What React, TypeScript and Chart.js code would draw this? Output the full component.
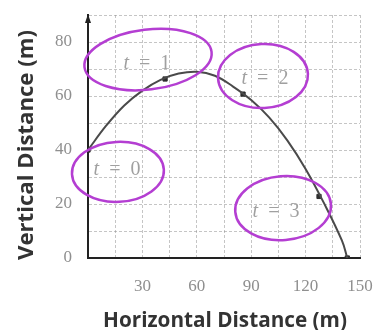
import { useEffect, useRef } from "react";
import { Chart, registerables } from "chart.js";

Chart.register(...registerables);

// Flight path of the projectile (horizontal m, vertical m)
const pathX = [0, 10, 20, 30, 40, 50, 60, 70, 80, 90, 100, 110, 120, 130, 140, 143];
const pathY = [40, 49, 56.5, 62, 66, 68.3, 69, 67.5, 63.5, 58.5, 52, 43.5, 33, 20.5, 6.5, 0];

// Positions at whole seconds plus the landing point
const markerX = [0, 42.5, 85.5, 127.4, 143];
const markerY = [40, 66.3, 60.7, 22.8, 0];

const timeLabels = ["0", "1", "2", "3"];

const xTitle = "Horizontal Distance (m)";
const yTitle = "Vertical Distance (m)";

const INK = "#333";
const TICK_GRAY = "#8f8f8f";
const PEN = "#b43ed2";

// Callout placement for each time label (data units) and its hand-drawn loop (px radii)
const callouts = [
  { tx: 16, ty: 32.6, cx: 16.5, cy: 31.9, rx: 46, ry: 30, rot: -0.05 },
  { tx: 32.5, ty: 71.8, cx: 33.1, cy: 73.5, rx: 64, ry: 30, rot: -0.12 },
  { tx: 97.6, ty: 66.5, cx: 96.5, cy: 67.4, rx: 45, ry: 32, rot: -0.05 },
  { tx: 103.7, ty: 17, cx: 107.6, cy: 18.5, rx: 48, ry: 32, rot: -0.08 },
];

// Draws a bold title whose font size is chosen so the text spans `span` px
function fittedTitle(ctx: CanvasRenderingContext2D, text: string, span: number) {
  ctx.font = "bold 20px 'Open Sans'";
  const w = ctx.measureText(text).width;
  const size = (20 * span) / w;
  ctx.font = `bold ${size.toFixed(2)}px 'Open Sans'`;
}

const decorPlugin = {
  id: "decor",
  afterDatasetsDraw(chart: any) {
    const { ctx, scales } = chart;
    const xs = scales.x;
    const ys = scales.y;
    ctx.save();
    // time labels
    ctx.fillStyle = "#a0a0a0";
    ctx.textBaseline = "middle";
    callouts.forEach((c, i) => {
      const px = xs.getPixelForValue(c.tx);
      const py = ys.getPixelForValue(c.ty);
      const rest = "  =  " + timeLabels[i];
      ctx.font = "italic 20px 'Liberation Serif'";
      const tw = ctx.measureText("t").width;
      ctx.font = "20px 'Liberation Serif'";
      const rw = ctx.measureText(rest).width;
      const start = px - (tw + rw) / 2;
      ctx.textAlign = "left";
      ctx.font = "italic 20px 'Liberation Serif'";
      ctx.fillText("t", start, py);
      ctx.font = "20px 'Liberation Serif'";
      ctx.fillText(rest, start + tw, py);
    });
    // hand-drawn loops
    ctx.strokeStyle = PEN;
    ctx.lineWidth = 2.5;
    callouts.forEach((c) => {
      ctx.beginPath();
      ctx.ellipse(
        xs.getPixelForValue(c.cx),
        ys.getPixelForValue(c.cy),
        c.rx,
        c.ry,
        c.rot,
        0,
        Math.PI * 2
      );
      ctx.stroke();
    });
    ctx.restore();
  },
  afterDraw(chart: any) {
    const { ctx, chartArea } = chart;
    ctx.save();
    // arrowhead on the vertical axis
    ctx.fillStyle = "#222";
    ctx.beginPath();
    ctx.moveTo(chartArea.left, chartArea.top - 1);
    ctx.lineTo(chartArea.left - 3, chartArea.top + 8);
    ctx.lineTo(chartArea.left + 3, chartArea.top + 8);
    ctx.closePath();
    ctx.fill();
    // axis titles
    ctx.fillStyle = INK;
    ctx.textAlign = "center";
    ctx.textBaseline = "alphabetic";
    fittedTitle(ctx, xTitle, 244);
    ctx.fillText(xTitle, 225, 327);
    ctx.translate(33, 145);
    ctx.rotate(-Math.PI / 2);
    fittedTitle(ctx, yTitle, 230);
    ctx.fillText(yTitle, 0, 0);
    ctx.restore();
  },
};

const gridColor = (c: any) =>
  c.tick && c.tick.value === 0 ? "rgba(0,0,0,0)" : "rgba(140,140,140,0.5)";

export default function App() {
  const ref = useRef<HTMLCanvasElement>(null);

  useEffect(() => {
    document.body.style.margin = "0";
    const canvas = ref.current;
    if (!canvas) return;
    const chart = new Chart(canvas, {
      type: "scatter",
      data: {
        datasets: [
          {
            type: "line",
            data: pathX.map((x, i) => ({ x, y: pathY[i] })),
            borderColor: "#4a4a4a",
            borderWidth: 2,
            pointRadius: 0,
            tension: 0.4,
            fill: false,
          },
          {
            data: markerX.map((x, i) => ({ x, y: markerY[i] })),
            backgroundColor: "#2e2e2e",
            borderColor: "#2e2e2e",
            pointStyle: "rect",
            pointRadius: 3,
          },
        ],
      },
      options: {
        responsive: false,
        animation: false,
        events: [],
        layout: { padding: { top: 15, right: 17, left: 0, bottom: 0 } },
        plugins: { legend: { display: false }, tooltip: { enabled: false } },
        scales: {
          x: {
            type: "linear",
            min: 0,
            max: 150,
            afterFit: (s: any) => {
              s.height = 72;
              s.paddingLeft = 0;
              s.paddingRight = 0;
            },
            ticks: {
              stepSize: 15,
              padding: 18,
              color: TICK_GRAY,
              font: { family: "'Liberation Serif'", size: 17 },
              maxRotation: 0,
              autoSkip: false,
              callback: (v: any) => (v % 30 === 0 && v !== 0 ? String(v) : ""),
            },
            grid: { drawTicks: false, lineWidth: 1, color: gridColor },
            border: { display: true, color: "#222", width: 2, dash: [3, 2] },
          },
          y: {
            type: "linear",
            min: 0,
            max: 90,
            afterFit: (s: any) => {
              s.width = 88;
              s.paddingTop = 0;
              s.paddingBottom = 0;
            },
            ticks: {
              stepSize: 10,
              padding: 16,
              color: TICK_GRAY,
              font: { family: "'Liberation Serif'", size: 17 },
              autoSkip: false,
              callback: (v: any) => (v % 20 === 0 ? String(v) : ""),
            },
            grid: { drawTicks: false, lineWidth: 1, color: gridColor },
            border: { display: true, color: "#222", width: 2, dash: [3, 2] },
          },
        },
      },
      plugins: [decorPlugin],
    });
    return () => chart.destroy();
  }, []);

  return (
    <div style={{ width: 377, height: 330, background: "#fff" }}>
      <canvas ref={ref} width={377} height={330} />
    </div>
  );
}
